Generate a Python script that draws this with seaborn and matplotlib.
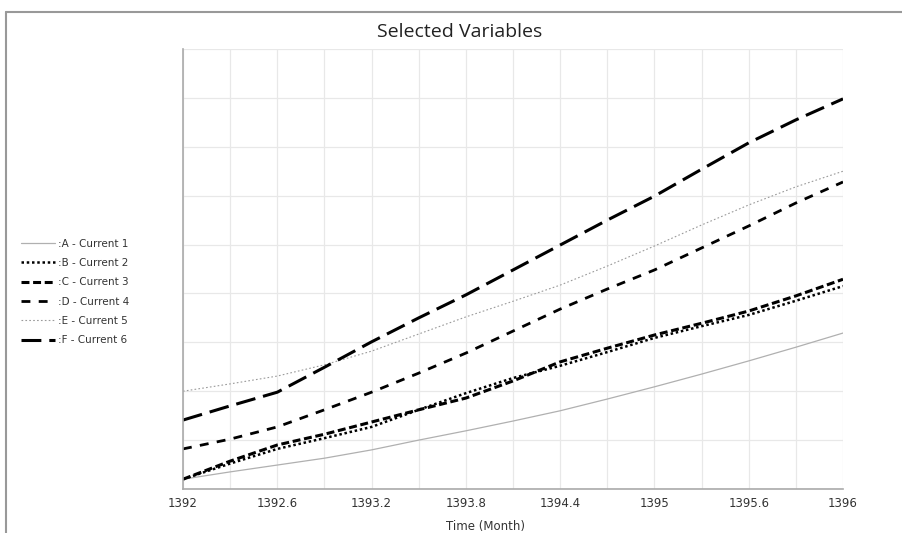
import numpy as np
import pandas as pd
import matplotlib
matplotlib.use('Agg')
import matplotlib.pyplot as plt
import seaborn as sns
from matplotlib.lines import Line2D

# time steps (15 points between 1392 and 1396)
time = np.linspace(1392, 1396, 15)

a_current = [0.20, 0.35, 0.49, 0.63, 0.80, 1.00, 1.19, 1.39, 1.60, 1.84, 2.09, 2.35, 2.62, 2.90, 3.19]
b_current = [0.20, 0.52, 0.82, 1.04, 1.27, 1.62, 1.96, 2.27, 2.52, 2.80, 3.09, 3.33, 3.56, 3.85, 4.15]
c_current = [0.20, 0.57, 0.90, 1.12, 1.37, 1.62, 1.86, 2.21, 2.60, 2.88, 3.15, 3.39, 3.64, 3.95, 4.29]
d_current = [0.82, 1.02, 1.27, 1.62, 1.98, 2.37, 2.78, 3.23, 3.68, 4.09, 4.48, 4.93, 5.38, 5.85, 6.28]
e_current = [2.00, 2.15, 2.31, 2.54, 2.82, 3.17, 3.52, 3.84, 4.17, 4.56, 4.97, 5.40, 5.81, 6.18, 6.50]
f_current = [1.41, 1.70, 1.98, 2.49, 3.01, 3.50, 3.97, 4.48, 4.99, 5.50, 5.99, 6.54, 7.08, 7.55, 7.98]

names = [':A - Current 1', ':B - Current 2', ':C - Current 3',
         ':D - Current 4', ':E - Current 5', ':F - Current 6']
tick_labels = ['1392', '1392.6', '1393.2', '1393.8', '1394.4', '1395', '1395.6', '1396']

df = pd.DataFrame({'time': time, names[0]: a_current, names[1]: b_current,
                   names[2]: c_current, names[3]: d_current,
                   names[4]: e_current, names[5]: f_current})
long = df.melt(id_vars='time', var_name='var', value_name='value')

styles = {
    names[0]: dict(color='#b0b0b0', lw=0.9, dashes=None),
    names[1]: dict(color='black', lw=1.8, dashes=(1, 1.1)),
    names[2]: dict(color='black', lw=2.2, dashes=(2.6, 1.2)),
    names[3]: dict(color='black', lw=2.0, dashes=(3.2, 3.0)),
    names[4]: dict(color='#9a9a9a', lw=0.8, dashes=(1.5, 2.0)),
    names[5]: dict(color='black', lw=2.2, dashes=(6.5, 2.6)),
}

sns.set_style('white')
plt.rcParams['font.family'] = ['DejaVu Sans']

fig = plt.figure(figsize=(9.02, 5.33), dpi=100)
ax = fig.add_axes([183/902, 44/533, 660/902, 440/533])

handles = []
for n in names:
    st = styles[n]
    sns.lineplot(data=long[long['var'] == n], x='time', y='value', ax=ax,
                 color=st['color'], linewidth=st['lw'], legend=False)
    line = ax.lines[-1]
    if st['dashes'] is not None:
        line.set_dashes(st['dashes'])
    h = Line2D([], [], color=st['color'], lw=st['lw'])
    if st['dashes'] is not None:
        h.set_dashes(st['dashes'])
    handles.append(h)

ax.set_xlim(1392, 1396)
ax.set_ylim(0, 9)
major = np.linspace(1392, 1396, 8)
minor = (major[:-1] + major[1:]) / 2
ax.set_xticks(major)
ax.set_xticklabels(tick_labels, fontsize=8.5, color='#333333')
ax.set_xticks(minor, minor=True)
ax.set_yticks(np.arange(0, 10))
ax.set_yticklabels([])
ax.tick_params(axis='x', which='major', length=0, pad=6)
ax.tick_params(axis='x', which='minor', length=4, color='#aaaaaa', width=1)
ax.tick_params(axis='y', length=0)
ax.grid(True, which='both', color='#e8e8e8', lw=0.9)
ax.set_axisbelow(True)
for s in ['top', 'right']:
    ax.spines[s].set_visible(False)
for s in ['left', 'bottom']:
    ax.spines[s].set_color('#aaaaaa')
    ax.spines[s].set_linewidth(1.2)
ax.set_xlabel('Time (Month)', fontsize=8.5, color='#333333')
ax.xaxis.set_label_coords((486 - 183) / 660, -31 / 440)
ax.set_ylabel('')

fig.text(460/902, 1 - 32/533, 'Selected Variables', ha='center', va='center',
         fontsize=14, color='#222222', family=['Open Sans', 'DejaVu Sans'])

fig.legend(handles, names, loc='center left', bbox_to_anchor=(12/902, 1 - 292/533),
           frameon=False, fontsize=7.5, handlelength=3.2, handletextpad=0.3,
           labelspacing=0.9, labelcolor='#333333')

# outer frame
fig.add_artist(Line2D([6/902, 6/902], [0, 1 - 12/533], color='#999999', lw=1.5,
                      transform=fig.transFigure))
fig.add_artist(Line2D([6/902, 1], [1 - 12/533, 1 - 12/533], color='#999999', lw=1.5,
                      transform=fig.transFigure))

fig.savefig('out.png', dpi=100)
